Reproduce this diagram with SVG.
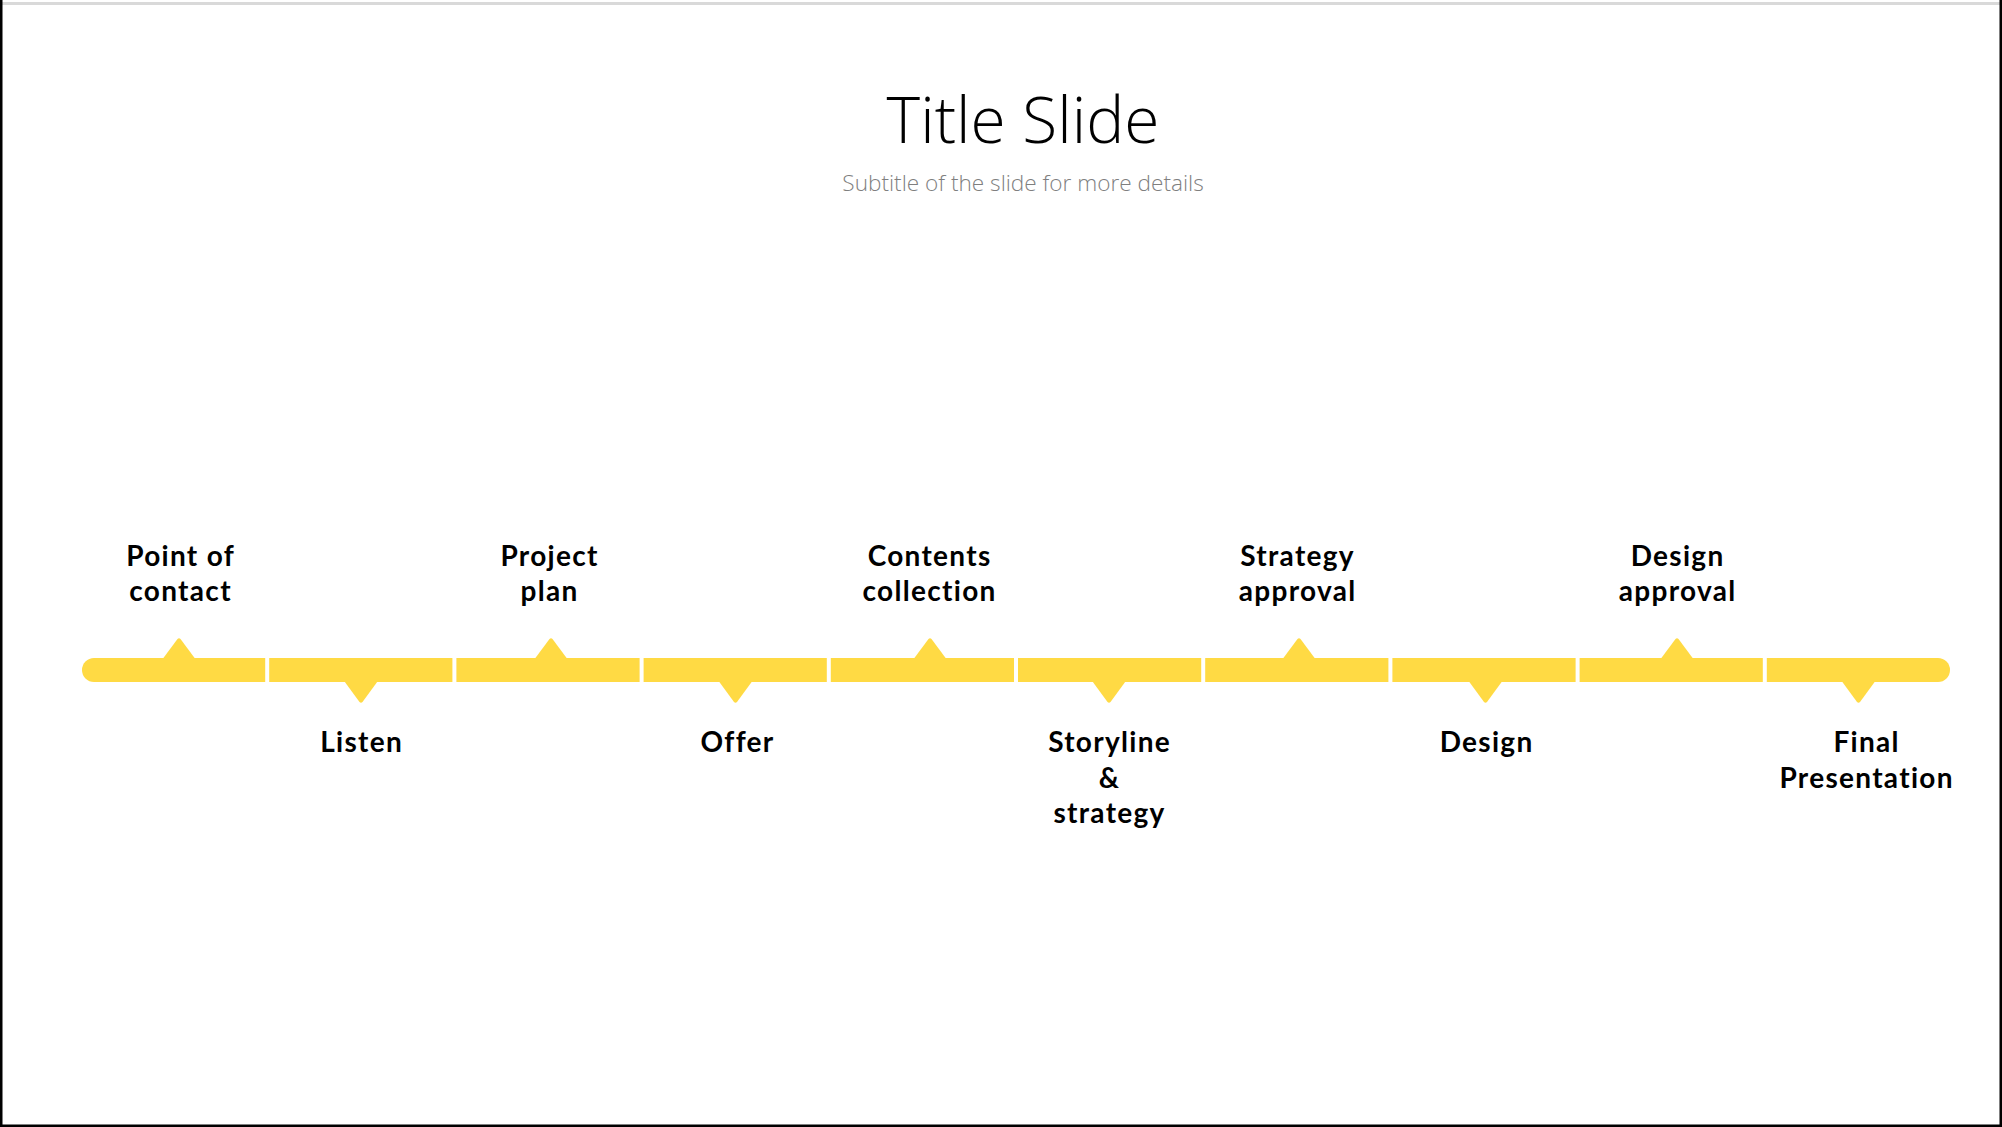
<svg xmlns="http://www.w3.org/2000/svg" width="2002" height="1127" viewBox="0 0 2002 1127">
<style>
.lbl{font-family:"Lato","Liberation Sans",sans-serif;font-weight:700;font-size:28px;letter-spacing:1.3px;fill:#000;text-anchor:middle}
.seg{fill:#FFDA44}
.title{font-family:"Open Sans","Liberation Sans",sans-serif;font-weight:300;font-size:64px;fill:#000;text-anchor:middle}
.sub{font-family:"Open Sans","Liberation Sans",sans-serif;font-weight:300;font-size:22.6px;fill:#7f7f7f;text-anchor:middle}
</style>
<rect x="0" y="0" width="2002" height="1127" fill="#fff"/>
<rect x="0" y="2" width="2002" height="3" fill="#d9d9d9"/>
<rect x="0" y="0" width="2.5" height="1127" fill="#000"/>
<rect x="1999.5" y="0" width="2.5" height="1127" fill="#000"/>
<rect x="0" y="1124.5" width="2002" height="2.5" fill="#000"/>
<g id="title">
<text class="title" x="1023" y="143">Title Slide</text>
<text class="sub" x="1023" y="191">Subtitle of the slide for more details</text>
</g>
<g id="connectors">
<path class="seg" d="M94,658 H265.2 V682 H94 A12,12 0 0 1 94,658 Z"/>
<rect class="seg" x="269.2" y="658" width="183.2" height="24"/>
<rect class="seg" x="456.4" y="658" width="183.2" height="24"/>
<rect class="seg" x="643.6" y="658" width="183.2" height="24"/>
<rect class="seg" x="830.8" y="658" width="183.2" height="24"/>
<rect class="seg" x="1018" y="658" width="183.2" height="24"/>
<rect class="seg" x="1205.2" y="658" width="183.2" height="24"/>
<rect class="seg" x="1392.4" y="658" width="183.2" height="24"/>
<rect class="seg" x="1579.6" y="658" width="183.2" height="24"/>
<path class="seg" d="M1766.8,658 H1938 A12,12 0 0 1 1938,682 H1766.8 Z"/>
</g>
<g id="n1"><path class="seg" d="M163,658.5 L177.5,639 Q179,637.5 180.5,639 L195,658.5 Z"/><text class="lbl" x="180.6" y="566">Point of</text><text class="lbl" x="180.6" y="601">contact</text></g>
<g id="n2"><path class="seg" d="M344.5,681.5 L359.5,702 Q361,703.5 362.5,702 L377.5,681.5 Z"/><text class="lbl" x="361.6" y="752">Listen</text></g>
<g id="n3"><path class="seg" d="M535,658.5 L549.5,639 Q551,637.5 552.5,639 L567,658.5 Z"/><text class="lbl" x="549.6" y="566">Project</text><text class="lbl" x="549.6" y="601">plan</text></g>
<g id="n4"><path class="seg" d="M719,681.5 L734,702 Q735.5,703.5 737,702 L752,681.5 Z"/><text class="lbl" x="737.6" y="752">Offer</text></g>
<g id="n5"><path class="seg" d="M914,658.5 L928.5,639 Q930,637.5 931.5,639 L946,658.5 Z"/><text class="lbl" x="929.6" y="566">Contents</text><text class="lbl" x="929.6" y="601">collection</text></g>
<g id="n6"><path class="seg" d="M1092.5,681.5 L1107.5,702 Q1109,703.5 1110.5,702 L1125.5,681.5 Z"/><text class="lbl" x="1109.6" y="752">Storyline</text><text class="lbl" x="1109.6" y="788">&amp;</text><text class="lbl" x="1109.6" y="823">strategy</text></g>
<g id="n7"><path class="seg" d="M1283,658.5 L1297.5,639 Q1299,637.5 1300.5,639 L1315,658.5 Z"/><text class="lbl" x="1297.6" y="566">Strategy</text><text class="lbl" x="1297.6" y="601">approval</text></g>
<g id="n8"><path class="seg" d="M1469,681.5 L1484,702 Q1485.5,703.5 1487,702 L1502,681.5 Z"/><text class="lbl" x="1486.6" y="752">Design</text></g>
<g id="n9"><path class="seg" d="M1661,658.5 L1675.5,639 Q1677,637.5 1678.5,639 L1693,658.5 Z"/><text class="lbl" x="1677.6" y="566">Design</text><text class="lbl" x="1677.6" y="601">approval</text></g>
<g id="n10"><path class="seg" d="M1842,681.5 L1857,702 Q1858.5,703.5 1860,702 L1875,681.5 Z"/><text class="lbl" x="1866.6" y="752">Final</text><text class="lbl" x="1866.6" y="788">Presentation</text></g>
</svg>
